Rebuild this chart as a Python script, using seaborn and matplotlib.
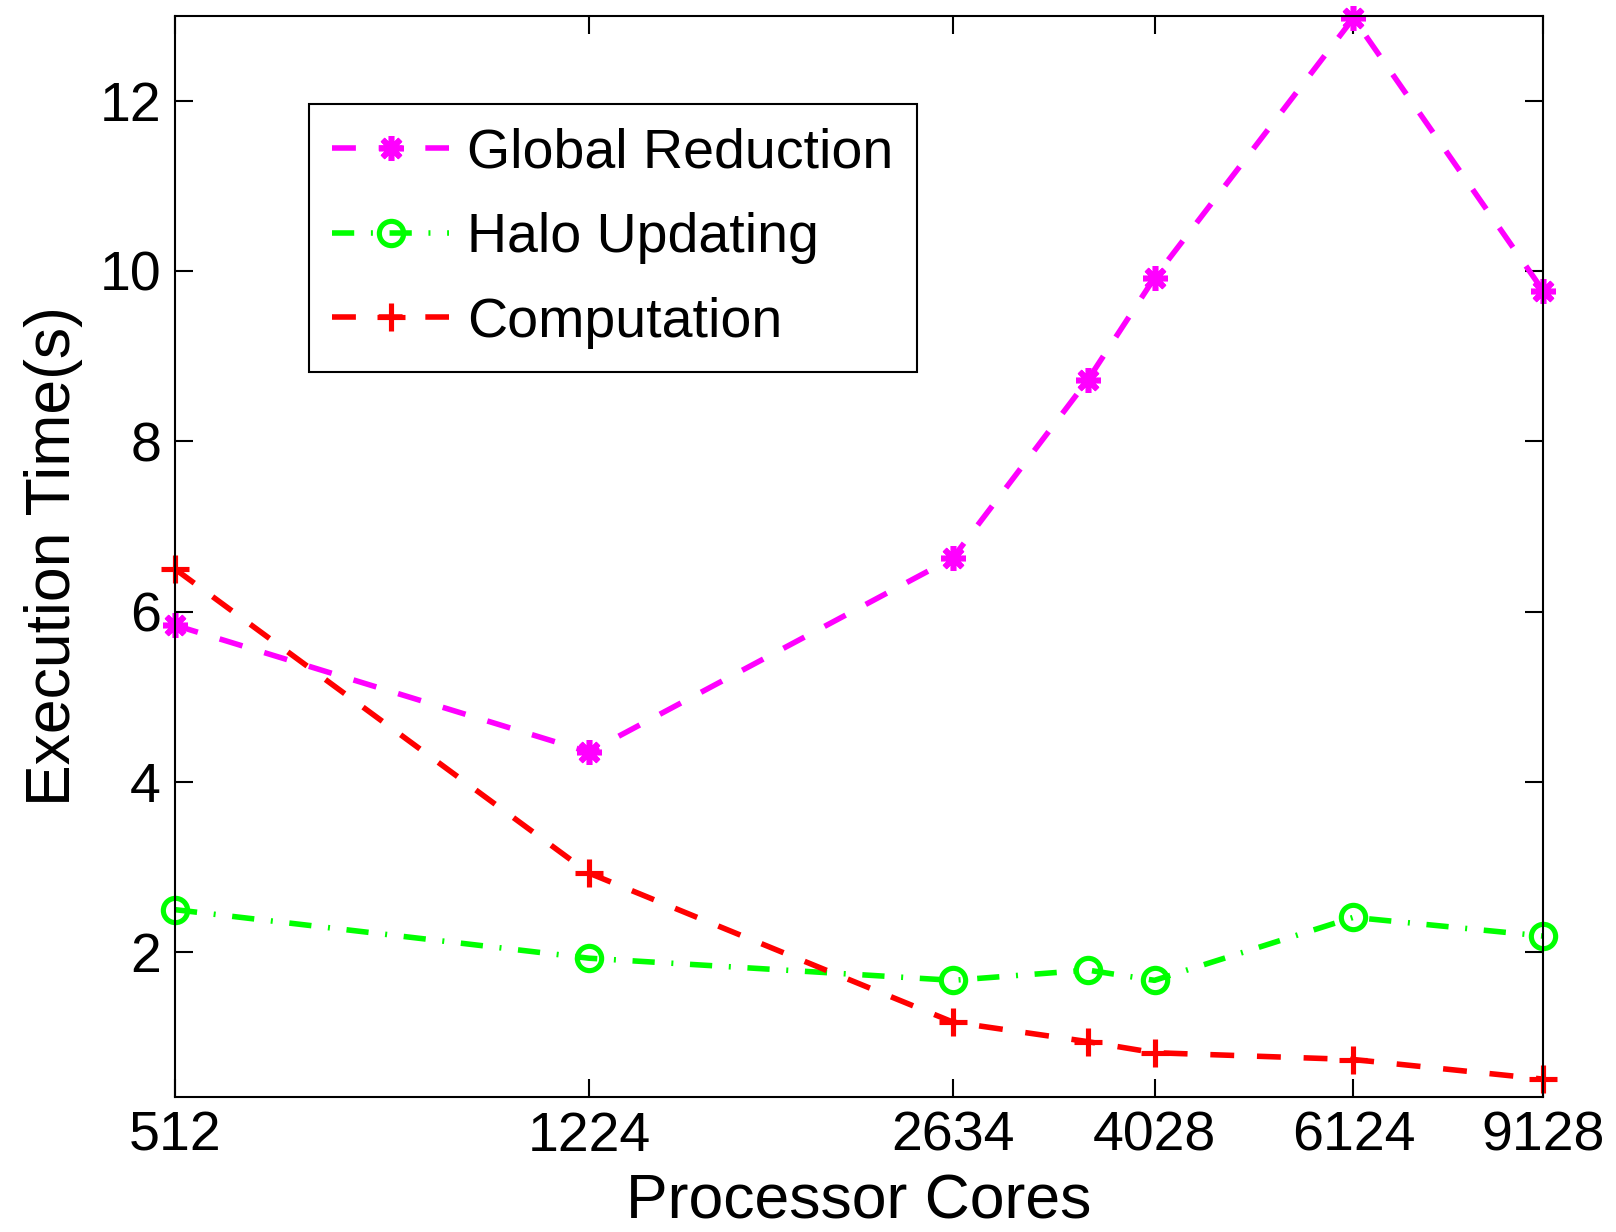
import matplotlib
matplotlib.use("Agg")
import matplotlib.pyplot as plt
import matplotlib.ticker as mticker
import seaborn as sns

# processor core counts (log-scaled x axis)
cores = [512, 1224, 2634, 3500, 4028, 6124, 9128]
tick_cores = [512, 1224, 2634, 4028, 6124, 9128]

# execution times in seconds
global_reduction = [5.84, 4.35, 6.63, 8.72, 9.92, 12.97, 9.77]
halo_updating = [2.50, 1.93, 1.67, 1.79, 1.67, 2.41, 2.19]
computation = [6.50, 2.93, 1.18, 0.95, 0.82, 0.74, 0.51]

sns.set_style("ticks")
plt.rcParams['font.family'] = ['Liberation Sans', 'DejaVu Sans']
plt.rcParams['text.color'] = 'black'
plt.rcParams['axes.labelcolor'] = 'black'
plt.rcParams['xtick.color'] = 'black'
plt.rcParams['ytick.color'] = 'black'

fig = plt.figure(figsize=(16.16, 12.32), dpi=100)
ax = fig.add_axes([175 / 1616, 1 - 1097 / 1232, 1368 / 1616, 1081.5 / 1232])

lw = 4
sns.lineplot(x=cores, y=global_reduction, ax=ax, color='#ff00ff', lw=lw,
             marker=(8, 2, 0), markersize=18, markeredgewidth=4, markeredgecolor='#ff00ff',
             label='Global Reduction', clip_on=False)
ax.lines[-1].set_dashes([4.3, 4.1])
sns.lineplot(x=cores, y=halo_updating, ax=ax, color='#00ff00', lw=lw,
             marker='o', markersize=17.5, markerfacecolor='none', markeredgewidth=3.7,
             markeredgecolor='#00ff00', label='Halo Updating', clip_on=False)
ax.lines[-1].set_dashes([4, 3, 0.36, 3])
sns.lineplot(x=cores, y=computation, ax=ax, color='#ff0000', lw=lw,
             marker='+', markersize=20, markeredgewidth=3.7, markeredgecolor='#ff0000',
             label='Computation', clip_on=False)
ax.lines[-1].set_dashes([4.3, 4.1])

ax.set_xscale('log')
ax.set_xlim(512, 9128)
ax.set_ylim(0.3, 13)
ax.xaxis.set_major_locator(mticker.FixedLocator(tick_cores))
ax.xaxis.set_major_formatter(mticker.FixedFormatter([str(c) for c in tick_cores]))
ax.xaxis.set_minor_locator(mticker.NullLocator())
ax.set_yticks([2, 4, 6, 8, 10, 12])

for s in ax.spines.values():
    s.set_visible(True)
    s.set_linewidth(1.5)
    s.set_color('black')
ax.tick_params(direction='in', length=13, width=1.5, top=True, right=True,
               labelsize=40, pad=10)

ax.set_xlabel('Processor Cores', fontsize=45, labelpad=7)
ax.set_ylabel('Execution Time(s)', fontsize=45, labelpad=12)

leg = ax.legend(loc='upper left', bbox_to_anchor=(0.098, 0.918), fontsize=40,
                frameon=True, fancybox=False, edgecolor='black', framealpha=1,
                borderaxespad=0, handlelength=2.1, borderpad=0.42, labelspacing=0.585,
                handletextpad=0.33)
leg.get_frame().set_linewidth(1.5)

fig.savefig('out.png', dpi=100)
